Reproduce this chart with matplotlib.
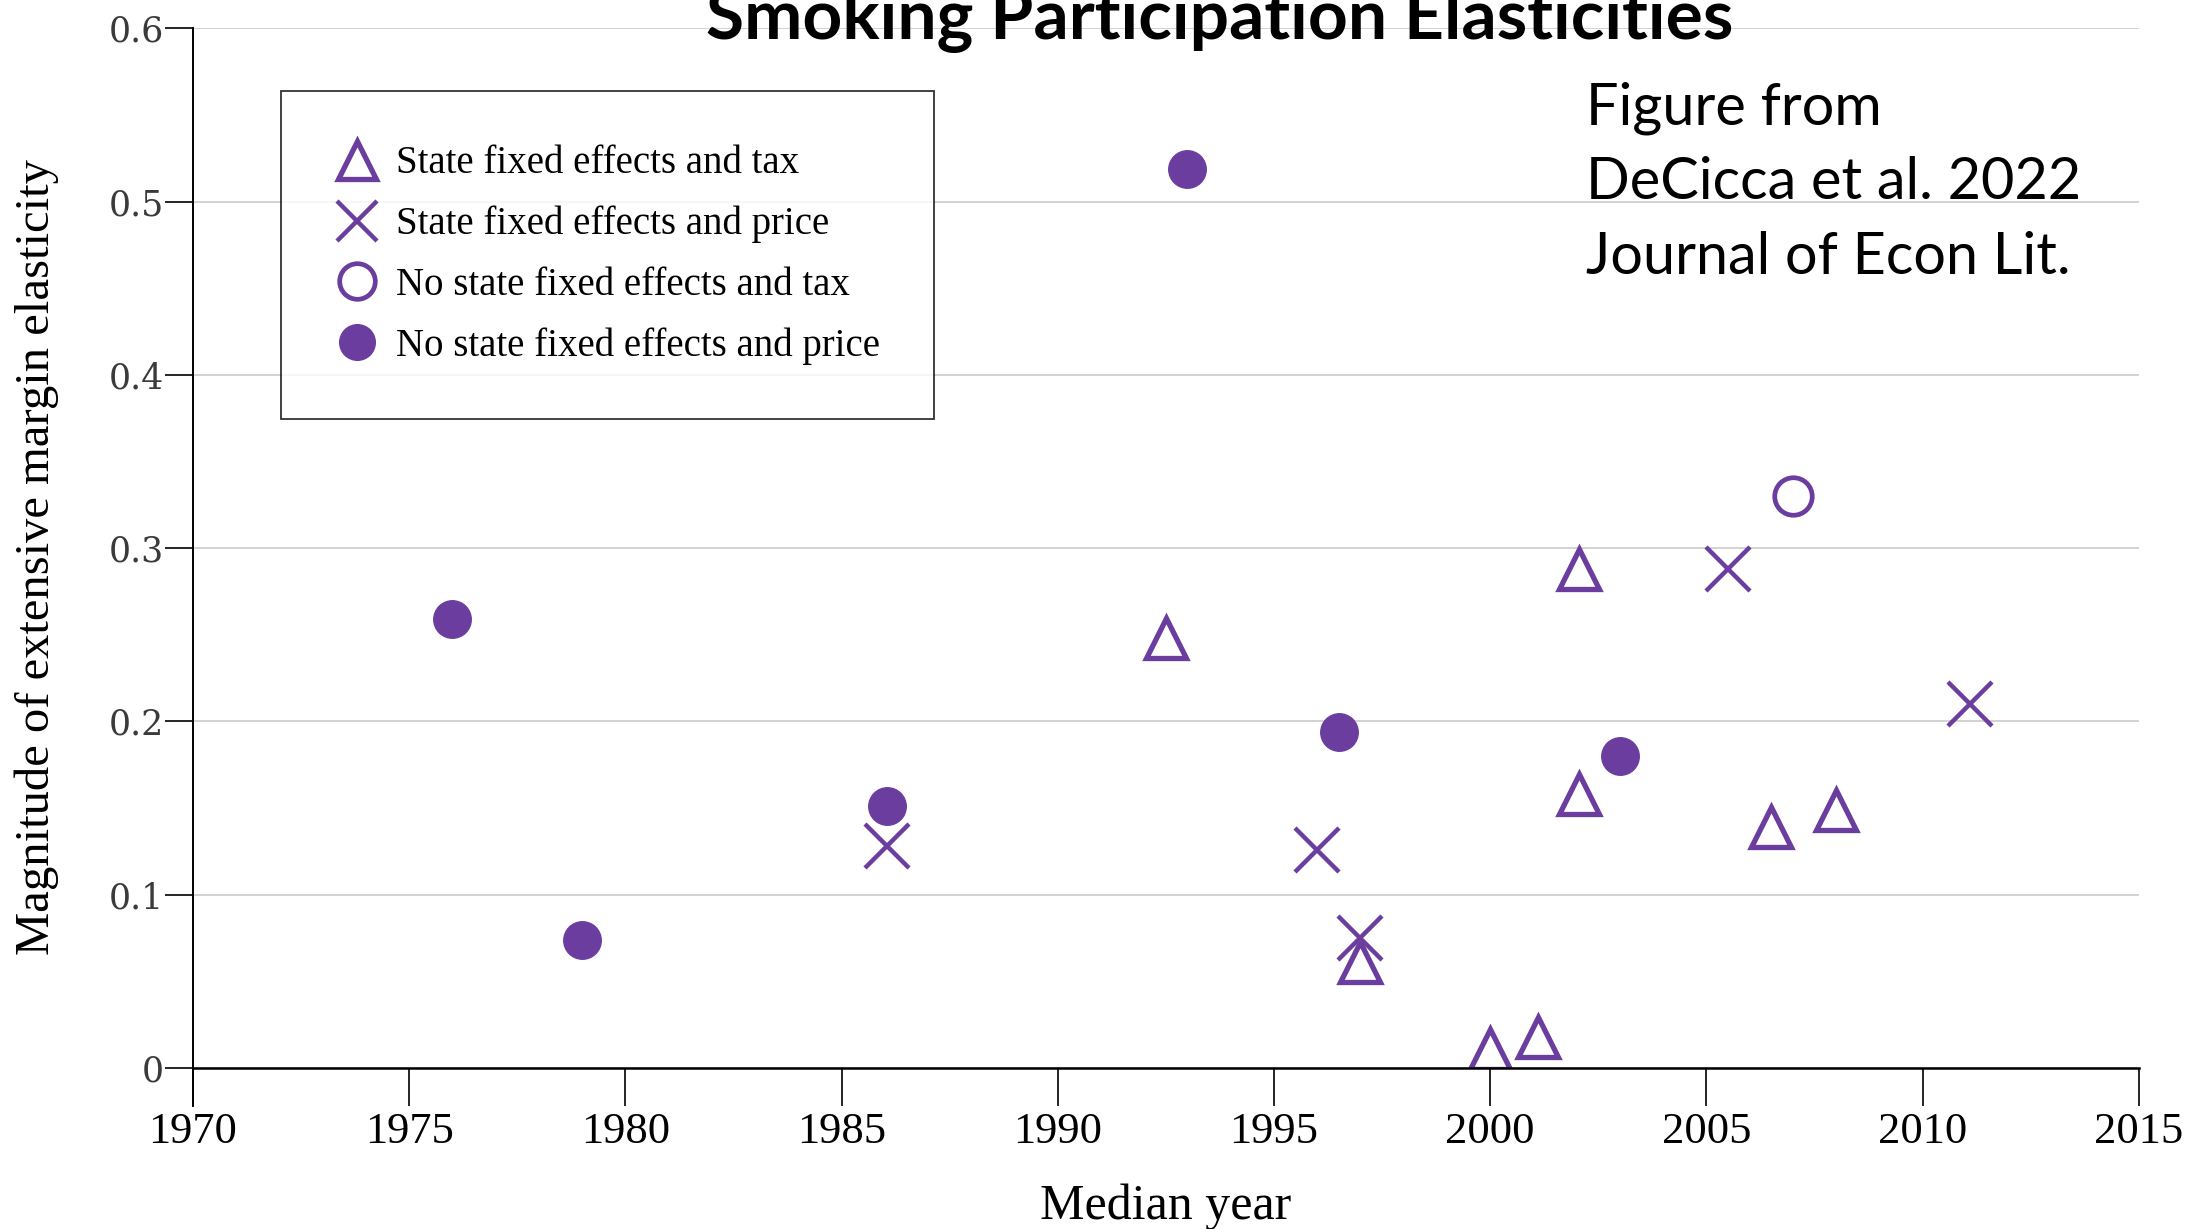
import matplotlib
matplotlib.use('Agg')
import matplotlib.pyplot as plt

# data (median year, elasticity magnitude)
fe_tax_year = [1992.5, 1997.0, 2000.0, 2001.1, 2002.05, 2002.05, 2006.5, 2008.0]
fe_tax_val = [0.248, 0.061, 0.011, 0.018, 0.288, 0.158, 0.139, 0.149]

fe_price_year = [1986.05, 1996.0, 1997.0, 2005.5, 2011.1]
fe_price_val = [0.128, 0.126, 0.075, 0.288, 0.210]

nofe_tax_year = [2007.0]
nofe_tax_val = [0.330]

nofe_price_year = [1976.0, 1979.0, 1986.05, 1993.0, 1996.5, 2003.0]
nofe_price_val = [0.259, 0.074, 0.151, 0.519, 0.194, 0.180]

labels = ['State fixed effects and tax', 'State fixed effects and price',
          'No state fixed effects and tax', 'No state fixed effects and price']
xticks = [1970, 1975, 1980, 1985, 1990, 1995, 2000, 2005, 2010, 2015]
yticks = [0, 0.1, 0.2, 0.3, 0.4, 0.5, 0.6]
ytick_labels = ['0', '0.1', '0.2', '0.3', '0.4', '0.5', '0.6']

purple = '#6a3d9e'
serif = 'Liberation Serif'

fig = plt.figure(figsize=(22.06, 12.29), dpi=100)
ax = fig.add_axes([0.0875, 0.131, 0.882, 0.846])

h1, = ax.plot(fe_tax_year, fe_tax_val, ls='none', marker='^', ms=29,
              mfc='none', mec=purple, mew=3.8, label=labels[0])
h2, = ax.plot(fe_price_year, fe_price_val, ls='none', marker='x', ms=31,
              mec=purple, mew=3.2, label=labels[1])
h3, = ax.plot(nofe_tax_year, nofe_tax_val, ls='none', marker='o', ms=27,
              mfc='none', mec=purple, mew=3.4, label=labels[2])
h4, = ax.plot(nofe_price_year, nofe_price_val, ls='none', marker='o', ms=27,
              mfc=purple, mec=purple, mew=1, label=labels[3])

ax.set_xlim(1970, 2015)
ax.set_ylim(0, 0.6)
ax.set_xticks(xticks)
ax.set_xticklabels([str(t) for t in xticks], fontfamily=serif, fontsize=32)
ax.set_yticks(yticks)
ax.set_yticklabels(ytick_labels, fontfamily='DejaVu Serif', fontsize=25, color='#3a3a3a')
ax.tick_params(axis='x', length=27, width=1.2, pad=5)
ax.tick_params(axis='y', length=20, width=1.2, pad=1)

ax.yaxis.grid(True, color='#cfcfcf', lw=1.3)
ax.set_axisbelow(True)
for s in ['top', 'right']:
    ax.spines[s].set_visible(False)
ax.spines['left'].set_linewidth(1.4)
ax.spines['bottom'].set_linewidth(1.8)
ax.spines['left'].set_bounds(-0.022, 0.6)

ax.set_xlabel('Median year', fontfamily=serif, fontsize=36, labelpad=22)
ax.set_ylabel('Magnitude of extensive margin elasticity', fontfamily=serif,
              fontsize=35)
ax.yaxis.set_label_coords(-0.069, 0.491)

leg = ax.legend(handles=[h1, h2, h3, h4], loc='upper left',
                bbox_to_anchor=(281 / 2206, 1 - 91 / 1229), bbox_transform=fig.transFigure,
                prop={'family': serif, 'size': 28}, frameon=True, fancybox=False,
                edgecolor='black', borderpad=1.4, labelspacing=0.6, borderaxespad=0,
                handlelength=1.1, handletextpad=0.45, markerscale=0.95)
leg.get_frame().set_linewidth(1.3)

fig.text(0.553, 0.968, 'Smoking Participation Elasticities', fontfamily='Lato',
         fontweight='bold', fontsize=50, ha='center', va='baseline')
fig.text(0.719, 0.934, 'Figure from\nDeCicca et al. 2022\nJournal of Econ Lit.',
         fontfamily='Lato', fontsize=41.5, ha='left', va='top', linespacing=1.5)

fig.savefig('out.png', dpi=100)
